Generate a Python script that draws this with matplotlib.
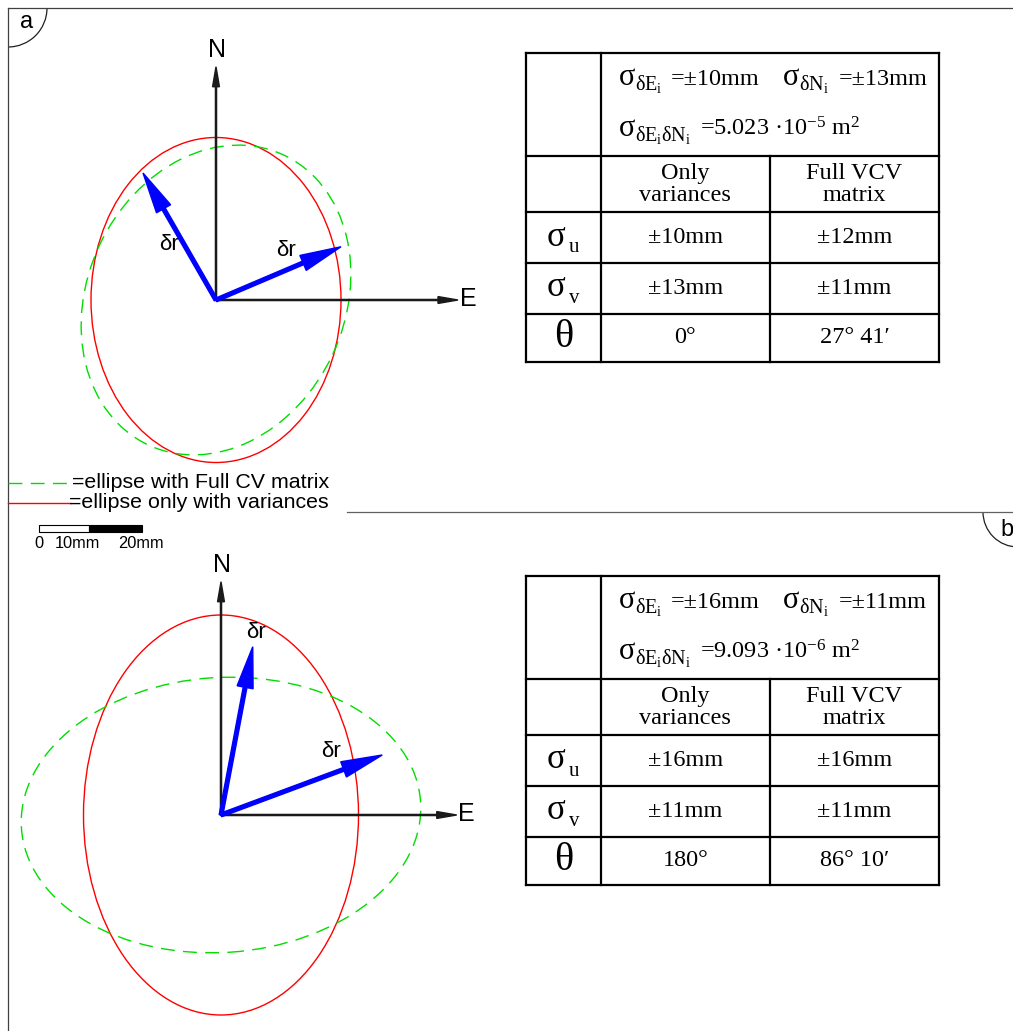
import matplotlib
matplotlib.use('Agg')
import matplotlib.pyplot as plt
from matplotlib.patches import Ellipse, Arc, Rectangle

plt.rcParams['mathtext.fontset'] = 'custom'
plt.rcParams['mathtext.rm'] = 'Liberation Serif'
plt.rcParams['mathtext.it'] = 'Liberation Serif:italic'
plt.rcParams['mathtext.default'] = 'regular'

W, H = 1013, 1031
PX_PER_MM = 12.5

# error ellipses in mm: (semi-axis E, semi-axis N, rotation from E in deg)
red_ellipse = [(10, 13, 0), (11, 16, 0)]
green_ellipse = [(12.8, 10.3, 65), (16, 11, 3.8)]

# delta r vectors (E, N) in mm and where their labels sit
dr_vectors = [[(-5.84, 10.16), (10.0, 4.26)],
              [(2.54, 13.46), (12.9, 4.8)]]
dr_labels = [[(-3.8, 4.4), (5.6, 4.0)],
             [(2.8, 14.6), (8.8, 5.1)]]

# length of N and E axes (mm)
n_axis = [18.66, 18.66]
e_axis = [19.36, 18.86]

# table contents
sigma_E = ['±10mm', '±16mm']
sigma_N = ['±13mm', '±11mm']
cov_EN = ['5.023 ·10$^{-5}$ m$^{2}$', '9.093 ·10$^{-6}$ m$^{2}$']
sigma_u = [('±10mm', '±12mm'), ('±16mm', '±16mm')]
sigma_v = [('±13mm', '±11mm'), ('±11mm', '±11mm')]
theta = [('0°', '27° 41′'), ('180°', '86° 10′')]
col_heads = ['Only\nvariances', 'Full VCV\nmatrix']

# layout (pixels)
origins = [(216, 300), (221, 815)]
panel_boxes = [(10, 500, 30, 480), (10, 500, 555, 1031)]
table_tops = [52.7, 575.7]
col_x = [526, 600.5, 770, 939]
row_dy = [0, 103.3, 159.6, 210, 261.3, 309]

fig = plt.figure(figsize=(W / 100, H / 100), dpi=100)
canvas = fig.add_axes([0, 0, 1, 1])
canvas.set_xlim(0, W)
canvas.set_ylim(H, 0)
canvas.axis('off')

sans = 'Liberation Sans'
serif = ['Liberation Serif', 'DejaVu Serif']
fs = 17.5

frame_col = '#404040'
canvas.plot([8, W], [8, 8], color=frame_col, lw=0.9)
canvas.plot([8, 8], [8, H], color=frame_col, lw=0.9)
canvas.plot([347, W], [512, 512], color='#606060', lw=0.9)
canvas.add_patch(Arc((8, 8), 78, 78, theta1=0, theta2=90, color='#202020', lw=0.9))
canvas.add_patch(Arc((1018, 512), 70, 70, theta1=90, theta2=180, color='#202020', lw=0.9))
canvas.text(27, 22, 'a', fontsize=17, family=sans, ha='center', va='center')
canvas.text(1000, 530, 'b', fontsize=17, family=sans, ha='left', va='center')

# legend
canvas.plot([8, 70], [483, 483], color='#00dd00', lw=1.0, ls=(0, (10, 6)))
canvas.plot([8, 70], [503, 503], color='#ff0000', lw=1.0)
canvas.text(72, 483, '=ellipse with Full CV matrix', fontsize=15.4,
            family=sans, va='center')
canvas.text(69, 503, '=ellipse only with variances', fontsize=15.4,
            family=sans, va='center')

# scale bar
canvas.add_patch(Rectangle((39, 524.5), 50, 7, facecolor='white', edgecolor='black', lw=0.8))
canvas.add_patch(Rectangle((89, 524.5), 53, 7, facecolor='black', edgecolor='black', lw=0.8))
for x, s in [(39, '0'), (77.5, '10mm'), (141, '20mm')]:
    canvas.text(x, 543, s, fontsize=11.8, family=sans, ha='center', va='center')

# diagrams
for i in range(2):
    ox, oy = origins[i]
    x0, x1, y0, y1 = panel_boxes[i]
    ax = fig.add_axes([x0 / W, 1 - y1 / H, (x1 - x0) / W, (y1 - y0) / H])
    ax.set_xlim((x0 - ox) / PX_PER_MM, (x1 - ox) / PX_PER_MM)
    ax.set_ylim((oy - y1) / PX_PER_MM, (oy - y0) / PX_PER_MM)
    ax.axis('off')

    a, b, ang = red_ellipse[i]
    ax.add_patch(Ellipse((0, 0), 2 * a, 2 * b, angle=ang, fill=False,
                         edgecolor='#ff0000', lw=1.0, zorder=2))
    a, b, ang = green_ellipse[i]
    ax.add_patch(Ellipse((0, 0), 2 * a, 2 * b, angle=ang, fill=False,
                         edgecolor='#00dd00', lw=1.0, ls=(0, (10, 6)), zorder=2))

    # N and E axes
    ax.arrow(0, 0, 0, n_axis[i], width=0.09, head_width=0.55, head_length=1.6,
             length_includes_head=True, color='#1a1a1a', zorder=3)
    ax.arrow(0, 0, e_axis[i], 0, width=0.09, head_width=0.55, head_length=1.6,
             length_includes_head=True, color='#1a1a1a', zorder=3)
    ax.text(0.05, n_axis[i] + 1.35, 'N', fontsize=18, family=sans,
            ha='center', va='center')
    ax.text(e_axis[i] + 0.8, 0.1, 'E', fontsize=18, family=sans,
            ha='center', va='center')

    for (dx, dy), (lx, ly) in zip(dr_vectors[i], dr_labels[i]):
        ax.arrow(0, 0, dx, dy, width=0.3, head_width=1.3, head_length=3.3,
                 length_includes_head=True, color='#0000ff', zorder=4)
        ax.text(lx, ly, 'δr', fontsize=16, family=sans,
                ha='center', va='center')


def sigma_term(x, y, sub, rest, rest_x):
    # big sigma, small subscript, then the value text
    canvas.text(x, y, 'σ', fontsize=22, family=serif, va='baseline')
    canvas.text(x + 16, y + 5, sub, fontsize=14.5, family=serif, va='baseline')
    canvas.text(rest_x, y, rest, fontsize=fs, family=serif, va='baseline')


# tables
for i in range(2):
    top = table_tops[i]
    rows = [top + d for d in row_dy]
    lw = 1.6
    for y in rows:
        canvas.plot([col_x[0], col_x[3]], [y, y], color='black', lw=lw, solid_capstyle='projecting')
    for x in (col_x[0], col_x[1], col_x[3]):
        canvas.plot([x, x], [rows[0], rows[-1]], color='black', lw=lw, solid_capstyle='projecting')
    canvas.plot([col_x[2], col_x[2]], [rows[1], rows[-1]], color='black', lw=lw)

    sigma_term(619, top + 32, '$δE_i$', '=' + sigma_E[i], 671)
    sigma_term(783, top + 32, '$δN_i$', '=' + sigma_N[i], 839)
    sigma_term(619, top + 83, '$δE_iδN_i$', '=' + cov_EN[i], 700)

    c1 = (col_x[1] + col_x[2]) / 2
    c2 = (col_x[2] + col_x[3]) / 2
    c0 = (col_x[0] + col_x[1]) / 2
    mid = [(rows[k] + rows[k + 1]) / 2 for k in range(5)]
    canvas.text(c1, mid[1], col_heads[0], fontsize=fs, family=serif,
                ha='center', va='center', linespacing=1.05)
    canvas.text(c2, mid[1], col_heads[1], fontsize=fs, family=serif,
                ha='center', va='center', linespacing=1.05)

    for k, sub in [(2, 'u'), (3, 'v')]:
        canvas.text(547, mid[k] + 8, 'σ', fontsize=25, family=serif, va='baseline')
        canvas.text(569, mid[k] + 15, sub, fontsize=15, family=serif, va='baseline')
    canvas.text(c0, mid[4], 'θ', fontsize=29, family=serif, ha='center', va='center')

    for k, vals in [(2, sigma_u[i]), (3, sigma_v[i]), (4, theta[i])]:
        canvas.text(c1, mid[k], vals[0], fontsize=fs, family=serif, ha='center', va='center')
        canvas.text(c2, mid[k], vals[1], fontsize=fs, family=serif, ha='center', va='center')

fig.savefig('out.png', dpi=100)
